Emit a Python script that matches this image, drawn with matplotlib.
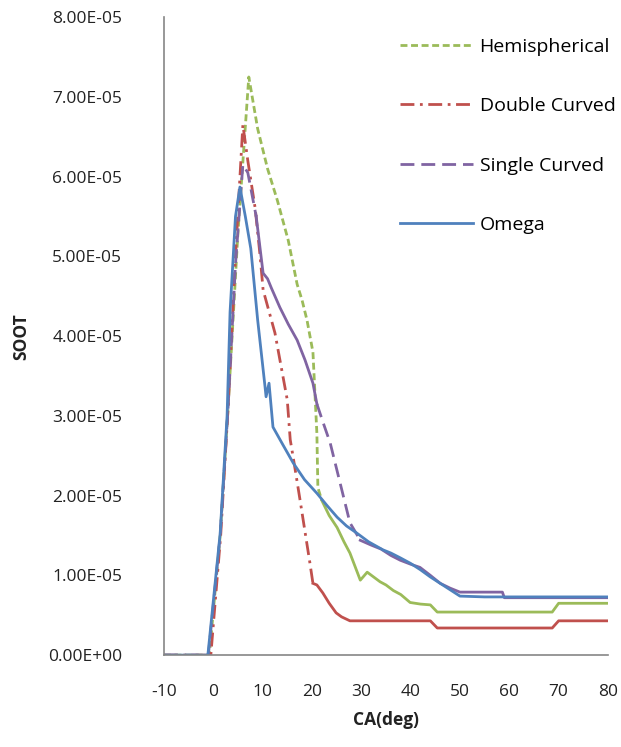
import numpy as np
import matplotlib.pyplot as plt
from matplotlib.lines import Line2D
from matplotlib.ticker import FuncFormatter, MultipleLocator

plt.rcParams['font.family'] = ['Open Sans', 'DejaVu Sans']
plt.rcParams['axes.unicode_minus'] = False

# soot mass fraction (x1e-5) versus crank angle for each bowl shape
hemi_ca = [-10, -0.8, 1.4, 3.0, 5.0, 7.2, 9.0, 11, 13, 15.2, 17, 18, 19, 20.2, 21,
           21.2, 22, 23.5, 25.1, 26.5, 27.7, 29.8, 31.2, 32.5, 33.8, 35, 36.5, 38,
           39.9, 42, 44, 45.4, 50, 55, 60, 65, 68.7, 70, 75, 80]
hemi_soot = [0, 0, 1.5, 3.1, 5.3, 7.25, 6.6, 6.1, 5.7, 5.2, 4.65, 4.45, 4.2, 3.8, 2.78,
             2.1, 1.94, 1.75, 1.6, 1.42, 1.28, 0.94, 1.04, 0.98, 0.92, 0.88, 0.81, 0.76,
             0.66, 0.64, 0.63, 0.54, 0.54, 0.54, 0.54, 0.54, 0.54, 0.65, 0.65, 0.65]

dbl_ca = [-10, -0.5, 1.5, 3.0, 4.5, 6.0, 7.0, 8.5, 9.5, 10.1, 12.5, 15, 15.6, 16.2,
          17.6, 19.6, 20.2, 21, 22.2, 23.5, 24.9, 26, 27.7, 30, 35, 40, 44, 45.4, 50,
          60, 68.7, 70, 75, 80]
dbl_soot = [0, 0, 1.5, 3.1, 5.0, 6.65, 6.2, 5.6, 5.0, 4.58, 4.04, 3.2, 2.7, 2.48,
            1.94, 1.15, 0.9, 0.88, 0.78, 0.65, 0.53, 0.48, 0.43, 0.43, 0.43, 0.43,
            0.43, 0.34, 0.34, 0.34, 0.34, 0.43, 0.43, 0.43]

single_ca = [-10, -1.0, 1.4, 3.0, 4.5, 6.0, 7.0, 8.7, 10.1, 11.0, 11.8, 13.5, 15.2, 17,
             18.6, 20.2, 21, 22.3, 23.7, 25.7, 27.7, 29.8, 32, 34, 36, 37.9, 40, 41.9,
             44, 46, 48, 50, 54, 58.6, 59, 65, 70, 75, 80]
single_soot = [0, 0, 1.5, 3.1, 4.9, 6.15, 6.05, 5.5, 4.79, 4.72, 4.6, 4.36, 4.15, 3.95,
               3.7, 3.41, 3.15, 2.91, 2.66, 2.16, 1.66, 1.44, 1.38, 1.33, 1.25, 1.19,
               1.14, 1.1, 1.0, 0.9, 0.84, 0.79, 0.79, 0.79, 0.72, 0.72, 0.72, 0.72, 0.72]

omega_ca = [-10, -1.1, 1.4, 2.8, 3.4, 4.5, 5.4, 6.5, 7.6, 9.0, 10.5, 10.7, 11.3, 12.1,
            14, 16.2, 18.5, 21, 23, 25.1, 27, 29.1, 31.5, 34.4, 36, 37.9, 40, 42, 44,
            46, 48, 50, 55, 60, 65, 70, 75, 80]
omega_soot = [0, 0, 1.53, 3.0, 4.3, 5.5, 5.87, 5.5, 5.1, 4.2, 3.36, 3.24, 3.41, 2.86,
              2.65, 2.41, 2.2, 2.03, 1.88, 1.73, 1.62, 1.53, 1.42, 1.32, 1.28, 1.22,
              1.15, 1.07, 0.98, 0.9, 0.82, 0.74, 0.73, 0.73, 0.73, 0.73, 0.73, 0.73]

names = ['Hemispherical', 'Double Curved', 'Single Curved', 'Omega']
colors = ['#9BBB59', '#C0504D', '#8064A2', '#4F81BD']
dash_hemi = (0, (2.5, 1.3))
dash_dbl = (0, (5, 2, 1, 2))
dash_single = (0, (5, 2.5))

fig = plt.figure(figsize=(6.21, 7.47), dpi=100)
ax = fig.add_axes([0.264, 0.123, 0.715, 0.854])
LW = 2.0


def draw(ca, soot, color, pieces):
    ca = np.asarray(ca, dtype=float)
    soot = np.asarray(soot, dtype=float) * 1e-5
    for lo, hi, ls in pieces:
        m = (ca >= lo) & (ca <= hi)
        ax.plot(ca[m], soot[m], color=color, lw=LW, linestyle=ls,
                solid_joinstyle='round')


# dense stretches of the curves come out solid, sparse ones keep their dashes
draw(hemi_ca, hemi_soot, colors[0], [(-10, 22, dash_hemi), (22, 80, '-')])
draw(dbl_ca, dbl_soot, colors[1], [(-10, 20.2, dash_dbl), (20.2, 80, '-')])
draw(single_ca, single_soot, colors[2],
     [(-10, 8.7, dash_single), (8.7, 21, '-'), (21, 29.8, dash_single), (29.8, 80, '-')])
draw(omega_ca, omega_soot, colors[3], [(-10, 80, '-')])

ax.set_xlim(-10, 80)
ax.set_ylim(0, 8e-5)
ax.xaxis.set_major_locator(MultipleLocator(10))
ax.yaxis.set_major_locator(MultipleLocator(1e-5))
ax.yaxis.set_major_formatter(FuncFormatter(lambda v, p: f'{v:.2E}'))

for s in ['top', 'right']:
    ax.spines[s].set_visible(False)
for s in ['left', 'bottom']:
    ax.spines[s].set_color('#868686')
    ax.spines[s].set_linewidth(1.2)

ax.tick_params(axis='y', length=0, pad=30, labelsize=12.5, labelcolor='#222222')
ax.tick_params(axis='x', length=0, pad=21, labelsize=12.5, labelcolor='#222222')

ax.set_xlabel('CA(deg)', fontsize=12.5, fontweight='bold', labelpad=8, color='#222222')
ax.set_ylabel('SOOT', fontsize=12.5, fontweight='bold', labelpad=13, color='#222222')

handles = [
    Line2D([], [], color=colors[0], lw=LW, linestyle=dash_hemi),
    Line2D([], [], color=colors[1], lw=LW, linestyle=dash_dbl),
    Line2D([], [], color=colors[2], lw=LW, linestyle=dash_single),
    Line2D([], [], color=colors[3], lw=LW, linestyle='-'),
]
ax.legend(handles, names, loc='upper left', bbox_to_anchor=(392 / 621, 1 - 30 / 747),
          bbox_transform=fig.transFigure, frameon=False, fontsize=14,
          handlelength=3.75, handletextpad=0.35, labelspacing=2.13, borderaxespad=0)

fig.savefig('out.png', dpi=100)
